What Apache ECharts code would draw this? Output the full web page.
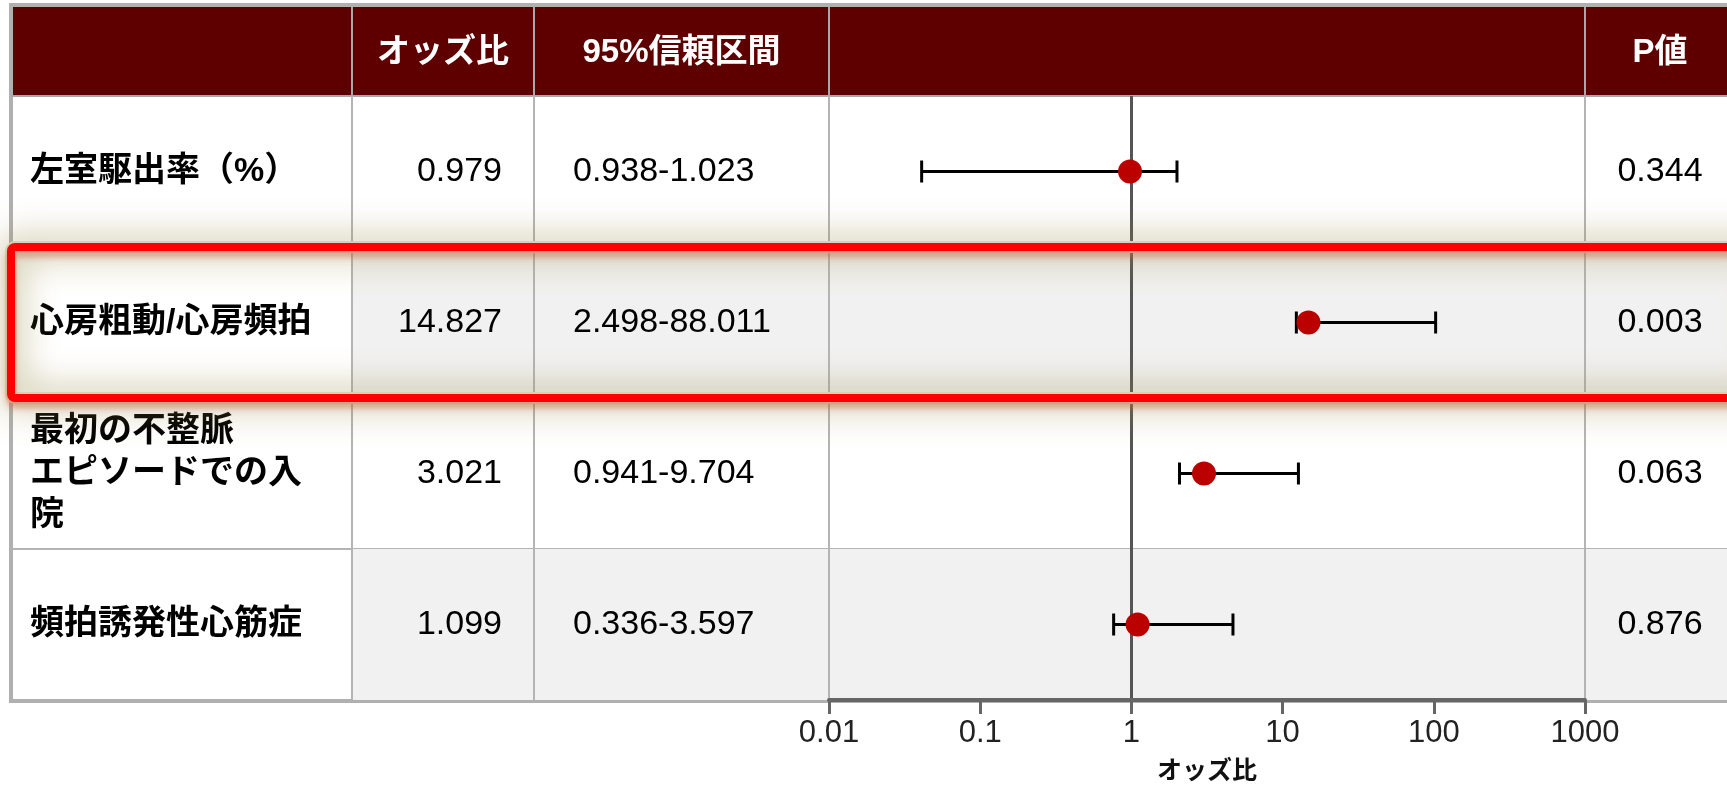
<!DOCTYPE html>
<html>
<head>
<meta charset="utf-8">
<script src="https://cdn.jsdelivr.net/npm/echarts@6/dist/echarts.min.js"></script>
<style>
  html, body { margin: 0; padding: 0; background: #ffffff; }
  #chart { width: 1727px; height: 790px; }
</style>
</head>
<body>
<div id="chart"></div>
<script>
// ---- data ----
const rowLabels = ['左室駆出率（%）', '心房粗動/心房頻拍', '最初の不整脈\nエピソードでの入\n院', '頻拍誘発性心筋症'];
const oddsRatios = [0.979, 14.827, 3.021, 1.099];
const ciLower = [0.938, 2.498, 0.941, 0.336];
const ciUpper = [1.023, 88.011, 9.704, 3.597];
const pValues = ['0.344', '0.003', '0.063', '0.876'];
const headerTitles = ['', 'オッズ比', '95%信頼区間', '', 'P値'];
const axisTitle = 'オッズ比';
const highlightRow = 1;

// ---- layout ----
const COLS = [11, 352, 534, 829, 1585, 1735];
const HEAD_TOP = 7;
const BODY_TOP = 96;
const BODY_BOTTOM = 700;
const W = 1727, H = 790;
const FONT = "'Liberation Sans', 'Noto Sans CJK JP', sans-serif";
const GRID_COLOR = '#b4b4b4';

const chart = echarts.init(document.getElementById('chart'), null, { renderer: 'canvas' });

// table body: stripes, cell borders and cell texts, one group per row
function renderRow(params, api) {
  const i = params.dataIndex;
  const yc = api.coord([1, i])[1];
  const band = api.size([0, 1])[1];
  const y0 = yc - band / 2;
  const children = [];
  if (i % 2 === 1) {
    children.push({ type: 'rect', shape: { x: COLS[1], y: y0, width: COLS[5] - COLS[1], height: band },
      style: { fill: '#f1f1f1' } });
  }
  if (i < rowLabels.length - 1) {
    children.push({ type: 'line', shape: { x1: COLS[0], y1: y0 + band, x2: COLS[5], y2: y0 + band },
      style: { stroke: GRID_COLOR, lineWidth: 2 } });
  }
  [1, 2, 3, 4].forEach(c => {
    children.push({ type: 'line', shape: { x1: COLS[c], y1: y0, x2: COLS[c], y2: y0 + band },
      style: { stroke: GRID_COLOR, lineWidth: 2 } });
  });
  const txt = (x, s, align, weight) => ({
    type: 'text', x: x, y: yc,
    style: { text: s, fill: '#000', fontSize: 34, fontWeight: weight, fontFamily: FONT,
      align: align, verticalAlign: 'middle', lineHeight: 42 }
  });
  children.push(txt(COLS[0] + 19, rowLabels[i], 'left', 'bold'));
  children.push(txt(COLS[2] - 32, oddsRatios[i].toFixed(3), 'right', 'normal'));
  children.push(txt(COLS[2] + 39, ciLower[i].toFixed(3) + '-' + ciUpper[i].toFixed(3), 'left', 'normal'));
  children.push(txt((COLS[4] + COLS[5]) / 2, pValues[i], 'center', 'normal'));
  return { type: 'group', children };
}

// whisker: odds ratio minus the lower figure to odds ratio plus the upper figure
function renderWhisker(params, api) {
  const p1 = api.coord([api.value(0), api.value(2)]);
  const p2 = api.coord([api.value(1), api.value(2)]);
  const cap = 11;
  const st = { stroke: '#000', lineWidth: 3 };
  return {
    type: 'group',
    children: [
      { type: 'line', shape: { x1: p1[0], y1: p1[1], x2: p2[0], y2: p2[1] }, style: st },
      { type: 'line', shape: { x1: p1[0], y1: p1[1] - cap, x2: p1[0], y2: p1[1] + cap }, style: st },
      { type: 'line', shape: { x1: p2[0], y1: p2[1] - cap, x2: p2[0], y2: p2[1] + cap }, style: st }
    ]
  };
}

const rowH = (BODY_BOTTOM - BODY_TOP) / rowLabels.length;

const graphics = [
  // header band
  { type: 'rect', z: 0, shape: { x: COLS[0], y: HEAD_TOP, width: COLS[5] - COLS[0], height: BODY_TOP - HEAD_TOP },
    style: { fill: '#5f0000' } },
  // outer frame
  { type: 'rect', z: 1, shape: { x: COLS[0], y: HEAD_TOP - 2, width: COLS[5] - COLS[0], height: BODY_BOTTOM - HEAD_TOP + 3 },
    style: { fill: null, stroke: '#b0b0b0', lineWidth: 4 } },
  { type: 'line', z: 1, shape: { x1: COLS[0], y1: BODY_TOP, x2: COLS[5], y2: BODY_TOP },
    style: { stroke: '#a8a8a8', lineWidth: 2 } }
];
[1, 2, 3, 4].forEach(c => {
  graphics.push({ type: 'line', z: 1, shape: { x1: COLS[c], y1: HEAD_TOP, x2: COLS[c], y2: BODY_TOP },
    style: { stroke: '#a8a8a8', lineWidth: 2 } });
});
headerTitles.forEach((t, c) => {
  if (!t) return;
  graphics.push({ type: 'text', z: 2, x: (COLS[c] + COLS[c + 1]) / 2, y: (HEAD_TOP + BODY_TOP) / 2 + 1,
    style: { text: t, fill: '#ffffff', fontSize: 33, fontWeight: 'bold', fontFamily: FONT,
      align: 'center', verticalAlign: 'middle' } });
});
// highlight frame around one row, with a soft olive glow
const hy = BODY_TOP + rowH * highlightRow;
graphics.push({ type: 'rect', z: 100, silent: true,
  shape: { x: COLS[0], y: hy, width: 1760, height: rowH, r: 4 },
  style: { fill: null, stroke: 'rgb(214,210,184)', lineWidth: 12,
    shadowBlur: 36, shadowColor: 'rgba(150,140,70,0.85)' } });
graphics.push({ type: 'rect', z: 101, silent: true,
  shape: { x: COLS[0], y: hy, width: 1760, height: rowH, r: 4 },
  style: { fill: null, stroke: '#ff0000', lineWidth: 8,
    shadowBlur: 6, shadowOffsetY: 6, shadowColor: 'rgba(205,95,70,0.55)' } });

const option = {
  animation: false,
  backgroundColor: '#ffffff',
  grid: { left: COLS[3], right: W - COLS[4], top: BODY_TOP, bottom: H - BODY_BOTTOM,
    outerBoundsMode: 'none', containLabel: false },
  xAxis: {
    type: 'log', logBase: 10, min: 0.01, max: 1000, z: 20,
    name: axisTitle, nameLocation: 'middle', nameGap: 60, nameMoveOverlap: false,
    nameTextStyle: { fontSize: 25, fontWeight: 'bold', color: '#111', fontFamily: FONT },
    axisLine: { show: true, onZero: false, lineStyle: { color: '#666', width: 4 } },
    axisTick: { show: true, inside: false, length: 14, lineStyle: { color: '#666', width: 3 } },
    axisLabel: { show: true, fontSize: 31, color: '#222', margin: 18, fontFamily: FONT,
      formatter: v => String(Number(Number(v).toPrecision(3))) },
    splitLine: { show: false },
    minorTick: { show: false }
  },
  yAxis: {
    type: 'category', data: rowLabels, inverse: true, show: false,
    axisLine: { show: false }, axisTick: { show: false }, axisLabel: { show: false }, splitLine: { show: false }
  },
  graphic: graphics,
  series: [
    {
      type: 'custom', name: 'table', z: 1, silent: true, clip: false,
      renderItem: renderRow,
      data: rowLabels.map((_, i) => [1, i]),
      encode: { x: 0, y: 1 }
    },
    {
      type: 'custom', name: 'ci', z: 4, silent: true, clip: false,
      renderItem: renderWhisker,
      data: oddsRatios.map((or, i) => [or - ciLower[i], or + ciUpper[i], i]),
      encode: { x: [0, 1], y: 2 }
    },
    {
      type: 'scatter', name: 'or', z: 5, silent: true,
      symbol: 'circle', symbolSize: 24,
      itemStyle: { color: '#bb0000', opacity: 1 },
      data: oddsRatios.map((v, i) => [v, i]),
      markLine: {
        silent: true, symbol: ['none', 'none'], z: 3,
        label: { show: false },
        lineStyle: { color: '#555', width: 3, type: 'solid' },
        data: [{ xAxis: 1 }]
      }
    }
  ]
};
chart.setOption(option);
</script>
</body>
</html>
